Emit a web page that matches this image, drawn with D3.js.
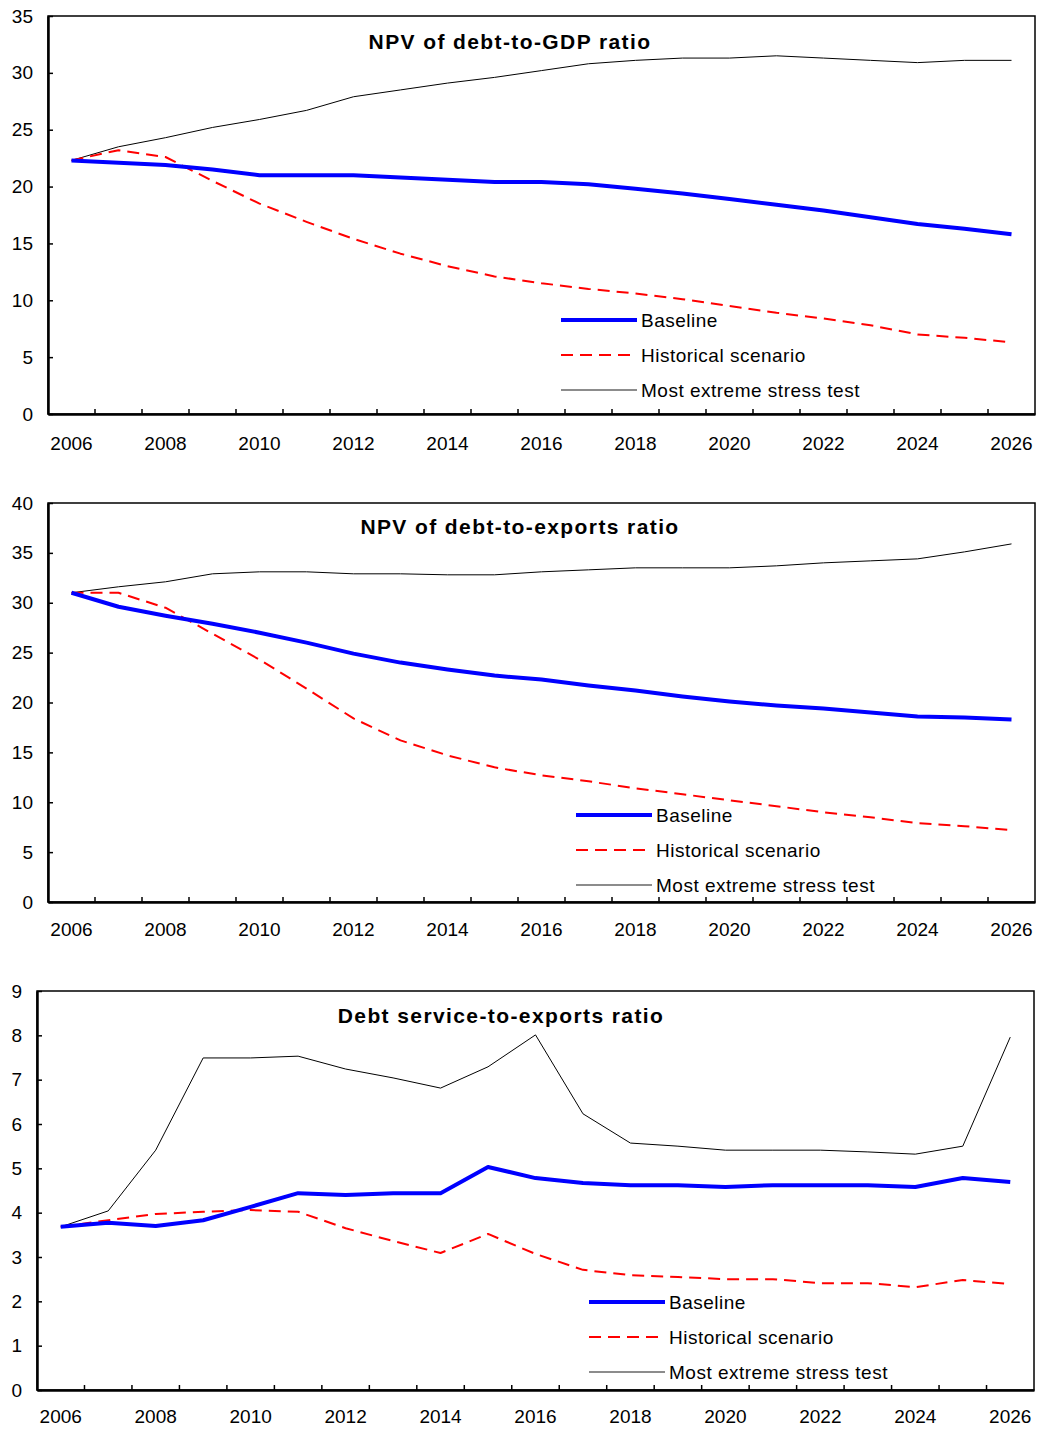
<!DOCTYPE html>
<html>
<head>
<meta charset="utf-8">
<script src="https://cdn.jsdelivr.net/npm/d3@7"></script>
<style>
    body { margin: 0; background: #fff; }
    svg { display: block; font-family: Arial, "Liberation Sans", sans-serif; }
</style>
</head>
<body>
<div id="chart"></div>
<script>
// Debt sustainability charts - three stacked panels

const years = ["2006", "2007", "2008", "2009", "2010", "2011", "2012", "2013", "2014", "2015", "2016",
    "2017", "2018", "2019", "2020", "2021", "2022", "2023", "2024", "2025", "2026"];
const xTickLabels = ["2006", "2008", "2010", "2012", "2014", "2016", "2018", "2020", "2022", "2024", "2026"];
const seriesNames = ["Baseline", "Historical scenario", "Most extreme stress test"];

// Panel 1 - NPV of debt-to-GDP ratio
const gdpBaseline = [22.3, 22.1, 21.9, 21.5, 21.0, 21.0, 21.0, 20.8, 20.6, 20.4, 20.4,
    20.2, 19.8, 19.4, 18.9, 18.4, 17.9, 17.3, 16.7, 16.3, 15.8];
const gdpHistorical = [22.3, 23.2, 22.6, 20.5, 18.5, 16.9, 15.4, 14.1, 13.0, 12.1, 11.5,
    11.0, 10.6, 10.1, 9.5, 8.9, 8.4, 7.8, 7.0, 6.7, 6.3];
const gdpStress = [22.3, 23.5, 24.3, 25.2, 25.9, 26.7, 27.9, 28.5, 29.1, 29.6, 30.2,
    30.8, 31.1, 31.3, 31.3, 31.5, 31.3, 31.1, 30.9, 31.1, 31.1];
const gdpTicks = [0, 5, 10, 15, 20, 25, 30, 35];

// Panel 2 - NPV of debt-to-exports ratio
const expBaseline = [31.0, 29.6, 28.7, 27.9, 27.0, 26.0, 24.9, 24.0, 23.3, 22.7, 22.3,
    21.7, 21.2, 20.6, 20.1, 19.7, 19.4, 19.0, 18.6, 18.5, 18.3];
const expHistorical = [31.0, 31.0, 29.5, 26.9, 24.3, 21.4, 18.4, 16.2, 14.7, 13.5, 12.7,
    12.1, 11.4, 10.8, 10.2, 9.6, 9.0, 8.5, 7.9, 7.6, 7.2];
const expStress = [31.0, 31.6, 32.1, 32.9, 33.1, 33.1, 32.9, 32.9, 32.8, 32.8, 33.1,
    33.3, 33.5, 33.5, 33.5, 33.7, 34.0, 34.2, 34.4, 35.1, 35.9];
const expTicks = [0, 5, 10, 15, 20, 25, 30, 35, 40];

// Panel 3 - Debt service-to-exports ratio
const dsBaseline = [3.68, 3.77, 3.70, 3.83, 4.13, 4.44, 4.40, 4.44, 4.44, 5.03, 4.78,
    4.67, 4.62, 4.62, 4.58, 4.62, 4.62, 4.62, 4.58, 4.78, 4.69];
const dsHistorical = [3.68, 3.83, 3.97, 4.02, 4.06, 4.02, 3.65, 3.36, 3.09, 3.52, 3.07,
    2.71, 2.59, 2.55, 2.50, 2.50, 2.41, 2.41, 2.32, 2.48, 2.39];
const dsStress = [3.68, 4.04, 5.41, 7.49, 7.49, 7.53, 7.24, 7.04, 6.81, 7.29, 8.01,
    6.23, 5.57, 5.50, 5.41, 5.41, 5.41, 5.37, 5.32, 5.50, 7.96];
const dsTicks = [0, 1, 2, 3, 4, 5, 6, 7, 8, 9];

const W = 1037, H = 1429;

const svg = d3.select("#chart").append("svg")
    .attr("width", W)
    .attr("height", H);

svg.append("rect").attr("width", W).attr("height", H).attr("fill", "#fff");

const styles = [
    { color: "#0000ff", width: 4, dash: null, legendColor: "#0000ff", legendWidth: 4 },
    { color: "#ff0000", width: 2, dash: "12,7", legendColor: "#ff0000", legendWidth: 2 },
    { color: "#000000", width: 1, dash: null, legendColor: "#666666", legendWidth: 1.5 }
];

function drawPanel(cfg) {
    const { left, right, top, bottom } = cfg;

    const x = d3.scaleBand().domain(years).range([left, right]).padding(0);
    const y = d3.scaleLinear().domain([0, d3.max(cfg.ticks)]).range([bottom, top]);

    const g = svg.append("g");

    // frame (top + right)
    g.append("rect")
        .attr("x", left).attr("y", top)
        .attr("width", right - left).attr("height", bottom - top)
        .attr("fill", "none")
        .attr("stroke", "#000")
        .attr("stroke-width", 1.5);

    // y axis, ticks pointing inward
    const yAxis = g.append("g")
        .attr("transform", `translate(${left},0)`)
        .call(d3.axisLeft(y).tickValues(cfg.ticks).tickSizeInner(-5).tickSizeOuter(0).tickPadding(15));
    yAxis.select(".domain").attr("stroke-width", 2.5);
    yAxis.selectAll(".tick line").attr("stroke-width", 1.5);
    yAxis.selectAll("text")
        .attr("font-size", 19)
        .attr("font-family", "Arial, 'Liberation Sans', sans-serif")
        .attr("fill", "#000");

    // x axis: labels every 2 years, tick marks at category boundaries
    const xAxis = g.append("g")
        .attr("transform", `translate(0,${bottom})`)
        .call(d3.axisBottom(x).tickValues(xTickLabels).tickSize(0).tickPadding(cfg.xPad));
    xAxis.select(".domain").attr("stroke-width", 2.5);
    xAxis.selectAll("text")
        .attr("font-size", 19)
        .attr("font-family", "Arial, 'Liberation Sans', sans-serif")
        .attr("fill", "#000");

    g.append("g").selectAll("line")
        .data(years.slice(1))
        .join("line")
        .attr("x1", d => x(d)).attr("x2", d => x(d))
        .attr("y1", bottom).attr("y2", bottom - 5)
        .attr("stroke", "#000")
        .attr("stroke-width", 1.5);

    // title
    g.append("text")
        .attr("x", cfg.titleX)
        .attr("y", cfg.titleY)
        .attr("text-anchor", "middle")
        .attr("font-size", 21)
        .attr("font-weight", "bold")
        .attr("letter-spacing", 1.4)
        .text(cfg.title);

    // lines
    const line = d3.line()
        .x((d, i) => x(years[i]) + x.bandwidth() / 2)
        .y(d => y(d));

    // draw stress first, then historical, then baseline on top
    [2, 1, 0].forEach(i => {
        g.append("path")
            .datum(cfg.series[i])
            .attr("fill", "none")
            .attr("stroke", styles[i].color)
            .attr("stroke-width", styles[i].width)
            .attr("stroke-dasharray", styles[i].dash)
            .attr("stroke-linejoin", "round")
            .attr("d", line);
    });

    // legend
    const legend = g.append("g")
        .attr("transform", `translate(${cfg.legendX},${cfg.legendY})`);

    seriesNames.forEach((name, i) => {
        legend.append("line")
            .attr("x1", 0).attr("x2", 76)
            .attr("y1", i * 35).attr("y2", i * 35)
            .attr("stroke", styles[i].legendColor)
            .attr("stroke-width", styles[i].legendWidth)
            .attr("stroke-dasharray", styles[i].dash);

        legend.append("text")
            .attr("x", 80)
            .attr("y", i * 35 + 7)
            .attr("font-size", 19)
            .attr("letter-spacing", 0.5)
            .text(name);
    });
}

drawPanel({
    title: "NPV of debt-to-GDP ratio",
    series: [gdpBaseline, gdpHistorical, gdpStress],
    ticks: gdpTicks,
    left: 48, right: 1035, top: 16, bottom: 414,
    xPad: 23,
    titleX: 510, titleY: 49,
    legendX: 561, legendY: 320
});

drawPanel({
    title: "NPV of debt-to-exports ratio",
    series: [expBaseline, expHistorical, expStress],
    ticks: expTicks,
    left: 48, right: 1035, top: 503, bottom: 902,
    xPad: 21,
    titleX: 520, titleY: 534,
    legendX: 576, legendY: 815
});

drawPanel({
    title: "Debt service-to-exports ratio",
    series: [dsBaseline, dsHistorical, dsStress],
    ticks: dsTicks,
    left: 37, right: 1034, top: 991, bottom: 1390,
    xPad: 20,
    titleX: 501, titleY: 1023,
    legendX: 589, legendY: 1302
});
</script>
</body>
</html>
